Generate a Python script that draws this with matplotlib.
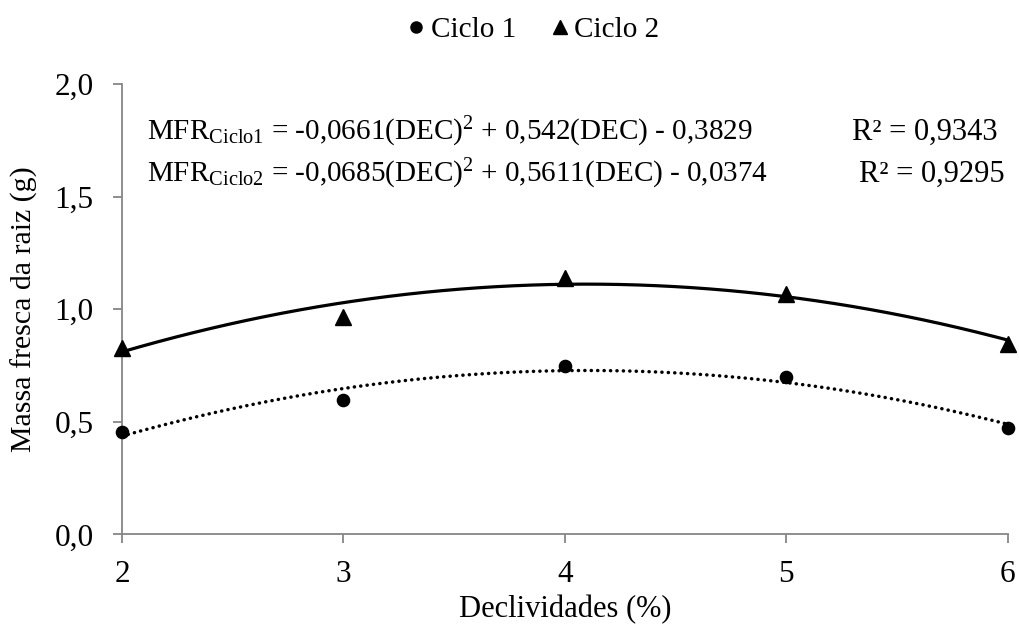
import numpy as np
import matplotlib
matplotlib.use("Agg")
import matplotlib.pyplot as plt
from matplotlib.lines import Line2D

plt.rcParams['font.family'] = ['Liberation Serif', 'DejaVu Serif']
plt.rcParams['mathtext.fontset'] = 'custom'
plt.rcParams['mathtext.rm'] = 'Liberation Serif'
plt.rcParams['mathtext.it'] = 'Liberation Serif:italic'

# Data
declividades = [2, 3, 4, 5, 6]
ciclo1 = [0.456, 0.597, 0.748, 0.698, 0.472]
ciclo2 = [0.830, 0.966, 1.139, 1.068, 0.846]
coef1 = [-0.0661, 0.542, -0.3829]
coef2 = [-0.0685, 0.5611, -0.0374]
xticks = [2, 3, 4, 5, 6]
yticks = [0.0, 0.5, 1.0, 1.5, 2.0]
ytick_labels = ['0,0', '0,5', '1,0', '1,5', '2,0']

fig = plt.figure(figsize=(10.19, 6.32), dpi=100)
ax = fig.add_axes([0.1197, 0.1543, 0.989 - 0.1197, 0.867 - 0.1543])

xs = np.linspace(2, 6, 200)
ax.plot(xs, np.polyval(coef2, xs), color='black', lw=2.3, solid_capstyle='butt', zorder=2)
ax.plot(xs, np.polyval(coef1, xs), color='black', lw=2.5, linestyle=(0, (0.05, 1.8)),
        dash_capstyle='round', zorder=2)
ax.plot(declividades, ciclo1, 'o', color='black', ms=8.8, clip_on=False, zorder=3)
ax.plot(declividades, ciclo2, '^', color='black', ms=11, clip_on=False, zorder=3)

ax.set_xlim(2, 6)
ax.set_ylim(0, 2.0)
ax.set_xticks(xticks)
ax.set_xticklabels([str(v) for v in xticks])
ax.set_yticks(yticks)
ax.set_yticklabels(ytick_labels)

for s in ['top', 'right']:
    ax.spines[s].set_visible(False)
for s in ['left', 'bottom']:
    ax.spines[s].set_color('#868686')
    ax.spines[s].set_linewidth(1.3)
ax.tick_params(axis='both', direction='out', length=6.5, width=1.3, color='#868686',
               labelsize=22.5, labelcolor='black')
ax.tick_params(axis='x', pad=12)
ax.tick_params(axis='y', pad=14)

ax.set_xlabel('Declividades (%)', fontsize=22, labelpad=4)
ax.set_ylabel('Massa fresca da raiz (g)', fontsize=21.5, labelpad=12)

eq1 = r'MFR$_{\mathrm{Ciclo1}}$ = -0,0661(DEC)$^{\mathrm{2}}$ + 0,542(DEC) - 0,3829'
eq2 = r'MFR$_{\mathrm{Ciclo2}}$ = -0,0685(DEC)$^{\mathrm{2}}$ + 0,5611(DEC) - 0,0374'
fig.text(147 / 1019, 1 - 132 / 632, eq1, fontsize=21, va='center', ha='left')
fig.text(998 / 1019, 1 - 132 / 632, 'R² = 0,9343', fontsize=22, va='center', ha='right')
fig.text(147 / 1019, 1 - 174 / 632, eq2, fontsize=21, va='center', ha='left')
fig.text(1005 / 1019, 1 - 174 / 632, 'R² = 0,9295', fontsize=22, va='center', ha='right')

handles = [Line2D([], [], marker='o', color='black', ls='none', ms=8),
           Line2D([], [], marker='^', color='black', ls='none', ms=10)]
fig.legend(handles, ['Ciclo 1', 'Ciclo 2'], loc='center', bbox_to_anchor=(532 / 1019, 1 - 30 / 632),
           ncol=2, frameon=False, fontsize=21, handletextpad=0.1, columnspacing=1.1,
           handlelength=0.8)

fig.savefig('out.png', dpi=100)
